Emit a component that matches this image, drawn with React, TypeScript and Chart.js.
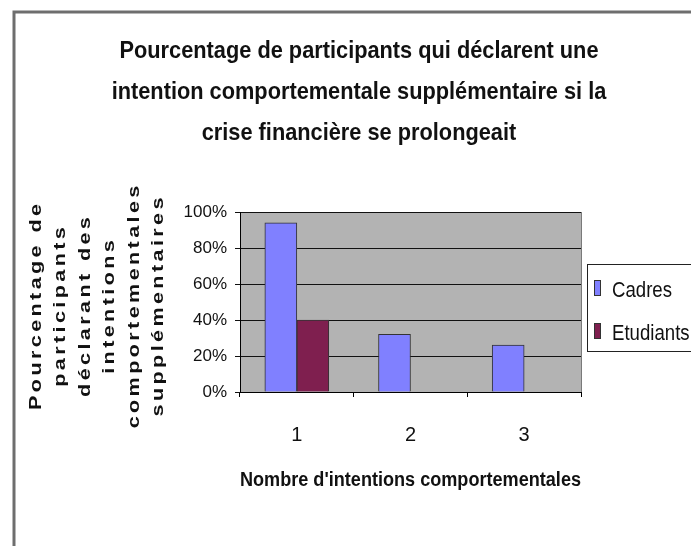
import React, { useEffect, useRef } from 'react';
import { Chart, registerables } from 'chart.js';

Chart.register(...registerables);

const FONT = '"Liberation Sans", Arial, Helvetica, sans-serif';

const titleLines = [
  'Pourcentage de participants qui déclarent une',
  'intention comportementale supplémentaire si la',
  'crise financière se prolongeait',
];
const yTitleLines = [
  'Pourcentage de',
  'participants',
  'déclarant des',
  'intentions',
  'comportementales',
  'supplémentaires',
];
const xTitle = "Nombre d'intentions comportementales";
const categories = ['1', '2', '3'];
const seriesNames = ['Cadres', 'Etudiants'];
const cadres = [94, 32, 26];
const etudiants = [40, 0, 0];
const yMin = 0;
const yMax = 100;
const yStep = 20;
const seriesColors = ['#8080ff', '#7f1f4f'];

const decor = {
  id: 'decor',
  beforeDraw(chart: any) {
    const { ctx, chartArea: a } = chart;
    ctx.save();
    ctx.fillStyle = '#ffffff';
    ctx.fillRect(0, 0, chart.width, chart.height);
    ctx.fillStyle = '#b3b3b3';
    ctx.fillRect(a.left, a.top, a.right - a.left, a.bottom - a.top);
    ctx.restore();
  },
  afterDraw(chart: any) {
    const { ctx, chartArea: a } = chart;
    ctx.save();
    // right border of plot
    ctx.strokeStyle = '#7a7a7a';
    ctx.lineWidth = 1;
    const rx = Math.round(a.right) + 0.5;
    ctx.beginPath();
    ctx.moveTo(rx, a.top);
    ctx.lineTo(rx, a.bottom);
    ctx.stroke();

    // outer frame
    ctx.strokeStyle = '#6e6e6e';
    ctx.lineWidth = 3;
    ctx.strokeRect(14, 12, chart.width + 50, chart.height + 50);

    // main title
    ctx.fillStyle = '#111';
    ctx.font = `bold 24px ${FONT}`;
    ctx.textAlign = 'center';
    ctx.textBaseline = 'alphabetic';
    const s = 479 / ctx.measureText(titleLines[0]).width;
    titleLines.forEach((t, i) => {
      ctx.save();
      ctx.translate(359, 58 + i * 41);
      ctx.scale(s, 1);
      ctx.fillText(t, 0, 0);
      ctx.restore();
    });

    // y axis title (rotated, stretched along reading direction)
    ctx.font = `bold 16px ${FONT}`;
    const ls = 2.5;
    const stretch = 1.35;
    (ctx as any).letterSpacing = `${ls}px`;
    ctx.textAlign = 'left';
    ctx.textBaseline = 'middle';
    yTitleLines.forEach((t, i) => {
      const w = ctx.measureText(t).width - ls;
      ctx.save();
      ctx.translate(36.5 + i * 24.5, 307);
      ctx.rotate(-Math.PI / 2);
      ctx.scale(stretch, 1);
      ctx.fillText(t, -w / 2, 0);
      ctx.restore();
    });
    (ctx as any).letterSpacing = '0px';

    // legend
    ctx.fillStyle = '#ffffff';
    ctx.fillRect(587.5, 264.5, 200, 87);
    ctx.strokeStyle = '#222';
    ctx.lineWidth = 1;
    ctx.strokeRect(587.5, 264.5, 200, 87);
    ctx.font = `22px ${FONT}`;
    ctx.textAlign = 'left';
    ctx.textBaseline = 'alphabetic';
    const ls2 = 60 / ctx.measureText('Cadres').width;
    chart.data.datasets.forEach((ds: any, i: number) => {
      const cy = 288 + i * 43;
      ctx.fillStyle = ds.backgroundColor;
      ctx.fillRect(594.5, cy - 7.5, 6, 15);
      ctx.strokeStyle = '#333';
      ctx.strokeRect(594.5, cy - 7.5, 6, 15);
      ctx.fillStyle = '#111';
      ctx.save();
      ctx.translate(612, cy + 9);
      ctx.scale(ls2, 1);
      ctx.fillText(ds.label, 0, 0);
      ctx.restore();
    });
    ctx.restore();
  },
};

export default function App() {
  const ref = useRef<HTMLCanvasElement | null>(null);
  useEffect(() => {
    if (!ref.current) return;
    const chart = new Chart(ref.current, {
      type: 'bar',
      data: {
        labels: categories,
        datasets: [
          {
            label: seriesNames[0],
            data: cadres,
            backgroundColor: seriesColors[0],
            borderColor: '#333',
            borderWidth: 1,
            barThickness: 32,
          },
          {
            label: seriesNames[1],
            data: etudiants,
            backgroundColor: seriesColors[1],
            borderColor: '#333',
            borderWidth: 1,
            barThickness: 32,
          },
        ],
      },
      options: {
        animation: false,
        responsive: false,
        maintainAspectRatio: false,
        devicePixelRatio: 1,
        layout: { padding: { left: 22, right: 110, top: 212, bottom: 54 } },
        plugins: {
          legend: { display: false },
          title: { display: false },
          tooltip: { enabled: false },
        },
        scales: {
          x: {
            grid: {
              display: true,
              drawOnChartArea: false,
              drawTicks: true,
              tickLength: 5,
              color: '#000',
              offset: true,
            },
            border: { display: true, color: '#000', width: 1 },
            ticks: { color: '#111', font: { size: 20, family: FONT }, padding: 26 },
            title: {
              display: true,
              text: xTitle,
              color: '#111',
              font: { size: 20, weight: 'bold', family: FONT },
              padding: { top: 0, bottom: 0 },
            },
            afterFit: (sc: any) => {
              sc.height = 100;
            },
          },
          y: {
            min: yMin,
            max: yMax,
            ticks: {
              stepSize: yStep,
              callback: (v: any) => `${v}%`,
              color: '#111',
              font: { size: 17, family: FONT },
              padding: 8,
            },
            grid: { color: '#111', lineWidth: 1, tickLength: 5, drawTicks: true },
            border: { display: true, color: '#000', width: 1 },
            afterFit: (sc: any) => {
              sc.width = 218;
            },
          },
        },
      },
      plugins: [decor],
    } as any);
    return () => chart.destroy();
  }, []);
  return (
    <div style={{ position: 'fixed', left: 0, top: 0, width: 691, height: 546, overflow: 'hidden' }}>
      <canvas ref={ref} width={691} height={546} style={{ display: 'block' }} />
    </div>
  );
}
